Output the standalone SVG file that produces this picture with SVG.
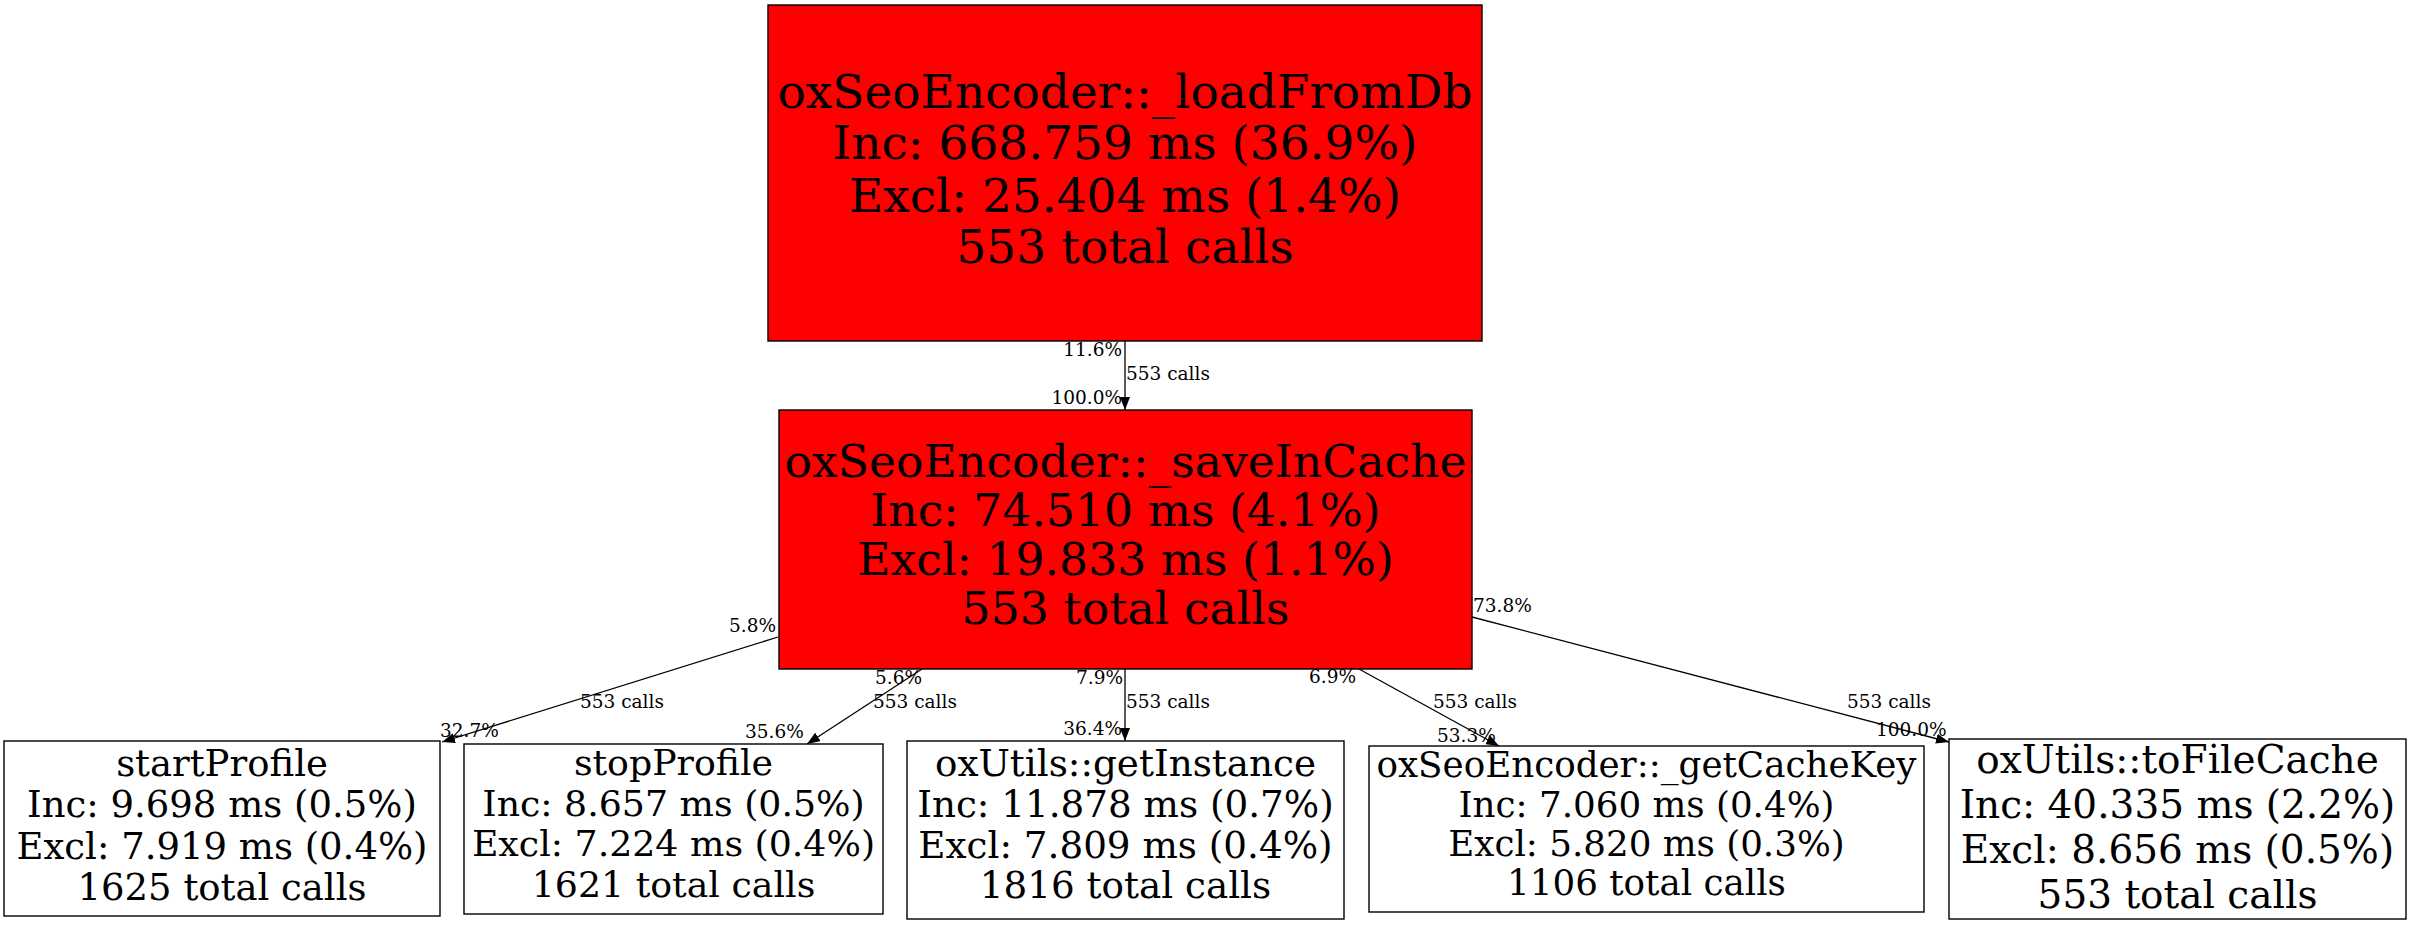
<svg xmlns="http://www.w3.org/2000/svg" width="2413" height="925" viewBox="0 0 2413 925">
<style>
  .red { fill: #ff0000; stroke: #000; stroke-width: 1.4; }
  .plain { fill: #fff; stroke: #000; stroke-width: 1.4; }
  text { font-family: "DejaVu Serif", "Liberation Serif", serif; fill: #000; }
  .n { text-anchor: middle; }
  .e { font-size: 18.5px; }
  .r { text-anchor: end; }
  .edge { stroke: #000; stroke-width: 1.3; fill: none; marker-end: url(#arr); }
</style>
<defs>
  <marker id="arr" markerUnits="userSpaceOnUse" markerWidth="14" markerHeight="10" refX="13" refY="5" orient="auto">
    <path d="M0,0 L13,5 L0,10 Z" fill="#000"/>
  </marker>
</defs>
<rect width="2413" height="925" fill="#fff"/>
<g id="connectors">
  <path class="edge" d="M1125,341 L1125,410"/>
  <path class="edge" d="M778,637 L442,742"/>
  <path class="edge" d="M922,669 L807,744"/>
  <path class="edge" d="M1125,669 L1125,741"/>
  <path class="edge" d="M1359,669 L1499,746"/>
  <path class="edge" d="M1472,617 L1949,742"/>
  <text class="e r" x="1122" y="356">11.6%</text>
  <text class="e" x="1126" y="380">553 calls</text>
  <text class="e r" x="1122" y="404">100.0%</text>
  <text class="e r" x="776" y="632">5.8%</text>
  <text class="e" x="580" y="708">553 calls</text>
  <text class="e" x="440" y="737">32.7%</text>
  <text class="e r" x="922" y="684">5.6%</text>
  <text class="e" x="873" y="708">553 calls</text>
  <text class="e" x="745" y="738">35.6%</text>
  <text class="e r" x="1123" y="684">7.9%</text>
  <text class="e" x="1126" y="708">553 calls</text>
  <text class="e r" x="1122" y="735">36.4%</text>
  <text class="e" x="1309" y="683">6.9%</text>
  <text class="e" x="1433" y="708">553 calls</text>
  <text class="e" x="1437" y="742">53.3%</text>
  <text class="e" x="1473" y="612">73.8%</text>
  <text class="e" x="1847" y="708">553 calls</text>
  <text class="e" x="1876" y="736">100.0%</text>
</g>
<g id="loadFromDb">
  <rect class="red" x="768" y="5" width="714" height="336"/>
  <text class="n" x="1125" y="107.5" font-size="47">oxSeoEncoder::_loadFromDb</text>
  <text class="n" x="1125" y="159.3" font-size="47">Inc: 668.759 ms (36.9%)</text>
  <text class="n" x="1125" y="211.5" font-size="47">Excl: 25.404 ms (1.4%)</text>
  <text class="n" x="1125" y="262.7" font-size="47">553 total calls</text>
</g>
<g id="saveInCache">
  <rect class="red" x="779" y="410" width="693" height="259"/>
  <text class="n" x="1125.5" y="476.5" font-size="45.7">oxSeoEncoder::_saveInCache</text>
  <text class="n" x="1125.5" y="526" font-size="45.7">Inc: 74.510 ms (4.1%)</text>
  <text class="n" x="1125.5" y="575" font-size="45.7">Excl: 19.833 ms (1.1%)</text>
  <text class="n" x="1125.5" y="624" font-size="45.7">553 total calls</text>
</g>
<g id="startProfile">
  <rect class="plain" x="4" y="741" width="436" height="175"/>
  <text class="n" x="222" y="776" font-size="37">startProfile</text>
  <text class="n" x="222" y="817" font-size="37">Inc: 9.698 ms (0.5%)</text>
  <text class="n" x="222" y="859" font-size="37">Excl: 7.919 ms (0.4%)</text>
  <text class="n" x="222" y="900" font-size="37">1625 total calls</text>
</g>
<g id="stopProfile">
  <rect class="plain" x="464" y="744" width="419" height="170"/>
  <text class="n" x="673.5" y="775" font-size="36.3">stopProfile</text>
  <text class="n" x="673.5" y="816" font-size="36.3">Inc: 8.657 ms (0.5%)</text>
  <text class="n" x="673.5" y="856" font-size="36.3">Excl: 7.224 ms (0.4%)</text>
  <text class="n" x="673.5" y="897" font-size="36.3">1621 total calls</text>
</g>
<g id="getInstance">
  <rect class="plain" x="907" y="741" width="437" height="178"/>
  <text class="n" x="1125.5" y="776" font-size="37.3">oxUtils::getInstance</text>
  <text class="n" x="1125.5" y="817" font-size="37.3">Inc: 11.878 ms (0.7%)</text>
  <text class="n" x="1125.5" y="858" font-size="37.3">Excl: 7.809 ms (0.4%)</text>
  <text class="n" x="1125.5" y="898" font-size="37.3">1816 total calls</text>
</g>
<g id="getCacheKey">
  <rect class="plain" x="1369" y="746" width="555" height="166"/>
  <text class="n" x="1646.5" y="777" font-size="35.7">oxSeoEncoder::_getCacheKey</text>
  <text class="n" x="1646.5" y="817" font-size="35.7">Inc: 7.060 ms (0.4%)</text>
  <text class="n" x="1646.5" y="856" font-size="35.7">Excl: 5.820 ms (0.3%)</text>
  <text class="n" x="1646.5" y="895" font-size="35.7">1106 total calls</text>
</g>
<g id="toFileCache">
  <rect class="plain" x="1949" y="739" width="457" height="180"/>
  <text class="n" x="2177.5" y="773" font-size="39">oxUtils::toFileCache</text>
  <text class="n" x="2177.5" y="818" font-size="39">Inc: 40.335 ms (2.2%)</text>
  <text class="n" x="2177.5" y="863" font-size="39">Excl: 8.656 ms (0.5%)</text>
  <text class="n" x="2177.5" y="908" font-size="39">553 total calls</text>
</g>
</svg>
